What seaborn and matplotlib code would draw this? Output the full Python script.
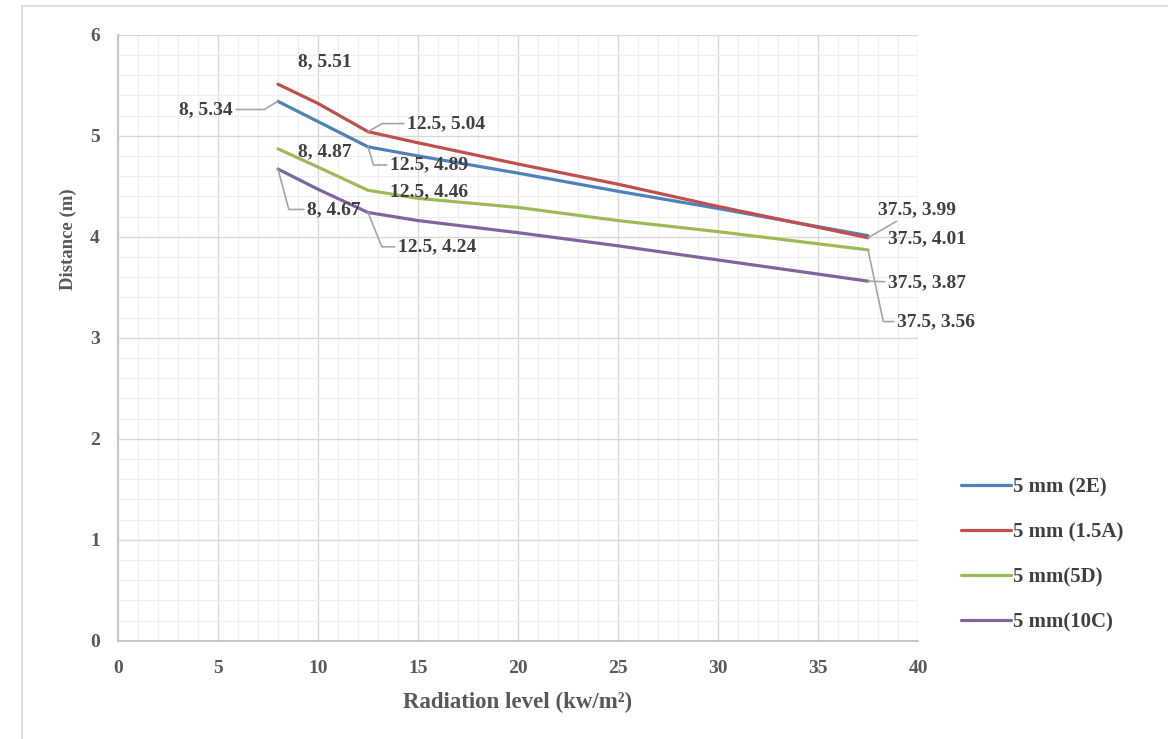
import pandas as pd
import seaborn as sns
import numpy as np
import matplotlib.pyplot as plt
from matplotlib.patches import Rectangle
from matplotlib.ticker import MultipleLocator

# radiation levels (kw/m2) and distances
radiation = [8, 10, 12.5, 15, 20, 25, 30, 37.5]
dist_2e = [5.34, 5.14, 4.89, 4.80, 4.63, 4.45, 4.28, 4.01]
dist_15a = [5.51, 5.32, 5.04, 4.93, 4.72, 4.52, 4.30, 3.99]
dist_5d = [4.87, 4.69, 4.46, 4.38, 4.29, 4.16, 4.05, 3.87]
dist_10c = [4.67, 4.47, 4.24, 4.16, 4.04, 3.91, 3.77, 3.56]

series_names = ['5 mm (2E)', '5 mm (1.5A)', '5 mm(5D)', '5 mm(10C)']
series_colors = ['#4f81bd', '#c0504d', '#9bbb59', '#8064a2']

frames = []
for name, vals in zip(series_names, [dist_2e, dist_15a, dist_5d, dist_10c]):
    frames.append(pd.DataFrame({'x': radiation, 'y': vals, 'series': name}))
df = pd.concat(frames, ignore_index=True)

sns.set_theme(style='white')
plt.rcParams['font.family'] = ['Liberation Serif', 'DejaVu Serif']

fig = plt.figure(figsize=(11.68, 7.39), dpi=100)
ax = fig.add_axes([0.101, 0.133, 0.685, 0.820])

# outer chart border
fig.patches.append(Rectangle((0.019, -0.01), 1.0, 1.002, transform=fig.transFigure,
                             fill=False, edgecolor='#d9d9d9', linewidth=1.2))

sns.lineplot(data=df, x='x', y='y', hue='series', palette=dict(zip(series_names, series_colors)),
             linewidth=2.3, ax=ax, legend=False, sort=False)

ax.set_xlim(0, 40)
ax.set_ylim(0, 6)
ax.xaxis.set_major_locator(MultipleLocator(5))
ax.xaxis.set_minor_locator(MultipleLocator(1))
ax.yaxis.set_major_locator(MultipleLocator(1))
ax.yaxis.set_minor_locator(MultipleLocator(0.2))
ax.grid(which='major', color='#d9d9d9', linewidth=1.0)
ax.grid(which='minor', color='#efefef', linewidth=0.8)
ax.set_axisbelow(True)
for s in ['top', 'right']:
    ax.spines[s].set_visible(False)
for s in ['left', 'bottom']:
    ax.spines[s].set_color('#bfbfbf')
    ax.spines[s].set_linewidth(1.2)
ax.tick_params(which='major', length=5, color='#bfbfbf', width=1, direction='out',
               labelsize=14, labelcolor='#595959')
ax.tick_params(axis='x', pad=9)
ax.tick_params(axis='y', pad=8)
ax.tick_params(which='minor', length=0)
for lab in ax.get_xticklabels() + ax.get_yticklabels():
    lab.set_fontweight('bold')

ax.set_xlabel('Radiation level (kw/m²)', fontsize=16.5, fontweight='bold', color='#595959')
ax.set_ylabel('Distance (m)', fontsize=13.5, fontweight='bold', color='#595959')
ax.xaxis.set_label_coords(0.5, -0.085)
ax.yaxis.set_label_coords(-0.051, 0.662)

# data labels with leader lines
lab_kw = dict(fontsize=14, fontweight='bold', color='#404040', va='center')
lead = dict(arrowstyle='-', color='#a6a6a6', lw=1.2, shrinkA=0, shrinkB=0)

def elbow(angle):
    return dict(connectionstyle='angle,angleA=0,angleB=%d,rad=0' % angle, **lead)

ax.text(9.0, 5.73, '8, 5.51', ha='left', **lab_kw)
ax.annotate('8, 5.34', xy=(8, 5.34), xytext=(5.75, 5.26), ha='right', arrowprops=elbow(30), **lab_kw)
ax.annotate('12.5, 5.04', xy=(12.5, 5.04), xytext=(14.45, 5.12), ha='left', arrowprops=elbow(30), **lab_kw)
ax.annotate('12.5, 4.89', xy=(12.5, 4.89), xytext=(13.6, 4.71), ha='left', arrowprops=elbow(107), **lab_kw)
ax.text(9.0, 4.84, '8, 4.87', ha='left', **lab_kw)
ax.text(13.6, 4.45, '12.5, 4.46', ha='left', **lab_kw)
ax.annotate('8, 4.67', xy=(8, 4.67), xytext=(9.45, 4.27), ha='left', arrowprops=elbow(105), **lab_kw)
ax.annotate('12.5, 4.24', xy=(12.5, 4.24), xytext=(14.0, 3.90), ha='left', arrowprops=elbow(112), **lab_kw)
ax.annotate('37.5, 3.99', xy=(37.5, 3.99), xytext=(38.0, 4.27), ha='left',
            arrowprops=dict(connectionstyle='arc3', **lead), **lab_kw)
ax.text(38.5, 3.98, '37.5, 4.01', ha='left', **lab_kw)
ax.annotate('37.5, 3.87', xy=(37.5, 3.56), xytext=(38.5, 3.54), ha='left',
            arrowprops=dict(connectionstyle='arc3', **lead), **lab_kw)
ax.annotate('37.5, 3.56', xy=(37.5, 3.87), xytext=(38.95, 3.16), ha='left', arrowprops=elbow(102), **lab_kw)

# legend on the right
handles = [plt.Line2D([], [], color=c, linewidth=2.3) for c in series_colors]
fig.legend(handles, series_names, loc='center left', bbox_to_anchor=(0.8065, 0.2495),
           frameon=False, handlelength=2.4, handletextpad=0.1, labelspacing=1.2,
           prop={'family': 'Liberation Serif', 'weight': 'bold', 'size': 15},
           labelcolor='#404040')

fig.savefig('out.png', dpi=100, facecolor='white')
